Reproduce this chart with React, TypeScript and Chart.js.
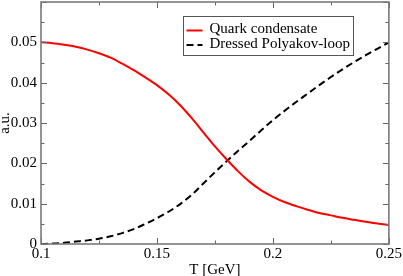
import React, { useEffect, useRef } from "react";
import { Chart, registerables } from "chart.js";

Chart.register(...registerables);

const T_VALUES = [0.100, 0.105, 0.110, 0.115, 0.120, 0.125, 0.130, 0.135, 0.140, 0.145, 0.150, 0.155, 0.160, 0.165, 0.170, 0.175, 0.180, 0.185, 0.190, 0.195, 0.200, 0.205, 0.210, 0.215, 0.220, 0.225, 0.230, 0.235, 0.240, 0.245, 0.250];
const QUARK_CONDENSATE = [0.0500, 0.0498, 0.0494, 0.0489, 0.0482, 0.0473, 0.0462, 0.0447, 0.0431, 0.0413, 0.0394, 0.0371, 0.0344, 0.0312, 0.0277, 0.0242, 0.0210, 0.0180, 0.0154, 0.0133, 0.0117, 0.0104, 0.0094, 0.0085, 0.0077, 0.0071, 0.0065, 0.0060, 0.0055, 0.0051, 0.0047];
const DRESSED_POLYAKOV = [0.0000, 0.0001, 0.0003, 0.0006, 0.0009, 0.0013, 0.0019, 0.0027, 0.0037, 0.0050, 0.0064, 0.0080, 0.0099, 0.0122, 0.0150, 0.0178, 0.0205, 0.0231, 0.0256, 0.0282, 0.0307, 0.0330, 0.0352, 0.0373, 0.0394, 0.0414, 0.0433, 0.0451, 0.0468, 0.0484, 0.0500];
const X_TICKS = [0.1, 0.15, 0.2, 0.25];
const Y_TICKS = [0, 0.01, 0.02, 0.03, 0.04, 0.05, 0.06];
const X_LABELS = ["0.1", "0.15", "0.2", "0.25"];
const Y_LABELS = ["0", "0.01", "0.02", "0.03", "0.04", "0.05", ""];
const SERIES_NAMES = ["Quark condensate", "Dressed Polyakov-loop"];

const FONT = '"Liberation Serif", "Times New Roman", serif';

const framePlugin = {
  id: "frameTicksLegend",
  afterDatasetsDraw(chart: any) {
    const { ctx, chartArea: a, scales } = chart;
    const x = scales.x;
    const y = scales.y;
    ctx.save();
    ctx.strokeStyle = "#666";
    ctx.lineWidth = 1;
    const tick = (x1: number, y1: number, x2: number, y2: number) => {
      ctx.beginPath();
      ctx.moveTo(x1, y1);
      ctx.lineTo(x2, y2);
      ctx.stroke();
    };
    X_TICKS.forEach((v, i) => {
      const px = Math.round(x.getPixelForValue(v)) + 0.5;
      tick(px, a.bottom, px, a.bottom - 6);
      tick(px, a.top, px, a.top + 6);
      if (i < X_TICKS.length - 1) {
        const m = Math.round(x.getPixelForValue((v + X_TICKS[i + 1]) / 2)) + 0.5;
        tick(m, a.bottom, m, a.bottom - 3.5);
        tick(m, a.top, m, a.top + 3.5);
      }
    });
    Y_TICKS.forEach((v, i) => {
      const py = Math.round(y.getPixelForValue(v)) + 0.5;
      tick(a.left, py, a.left + 6, py);
      tick(a.right, py, a.right - 6, py);
      if (i < Y_TICKS.length - 1) {
        const m = Math.round(y.getPixelForValue((v + Y_TICKS[i + 1]) / 2)) + 0.5;
        tick(a.left, m, a.left + 3.5, m);
        tick(a.right, m, a.right - 3.5, m);
      }
    });
    // frame
    ctx.strokeStyle = "#7a7a7a";
    ctx.lineWidth = 1.6;
    ctx.strokeRect(a.left, a.top, a.right - a.left, a.bottom - a.top);

    // legend
    const bx = a.left + 142.5;
    const by = a.top + 14.5;
    const bw = 170;
    const bh = 39;
    ctx.fillStyle = "#fff";
    ctx.fillRect(bx, by, bw, bh);
    ctx.strokeStyle = "#555";
    ctx.lineWidth = 1;
    ctx.strokeRect(bx, by, bw, bh);
    ctx.font = "15px " + FONT;
    ctx.textBaseline = "middle";
    ctx.textAlign = "left";
    chart.data.datasets.forEach((ds: any, i: number) => {
      const cy = by + 13 + i * 14.5;
      ctx.strokeStyle = ds.borderColor;
      ctx.lineWidth = 2;
      ctx.setLineDash(ds.borderDash || []);
      ctx.beginPath();
      ctx.moveTo(bx + 3, cy + 1);
      ctx.lineTo(bx + 19, cy + 1);
      ctx.stroke();
      ctx.setLineDash([]);
      ctx.fillStyle = "#000";
      ctx.fillText(ds.label, bx + 26, cy);
    });
    ctx.restore();
  },
};

export default function App() {
  const ref = useRef<HTMLCanvasElement>(null);
  useEffect(() => {
    document.body.style.margin = "0";
    const canvas = ref.current!;
    const chart = new Chart(canvas, {
      type: "line",
      data: {
        datasets: [
          {
            label: SERIES_NAMES[0],
            data: T_VALUES.map((t, i) => ({ x: t, y: QUARK_CONDENSATE[i] })),
            borderColor: "#ff0000",
            borderWidth: 2,
            pointRadius: 0,
            cubicInterpolationMode: "monotone",
            fill: false,
          },
          {
            label: SERIES_NAMES[1],
            data: T_VALUES.map((t, i) => ({ x: t, y: DRESSED_POLYAKOV[i] })),
            borderColor: "#000000",
            borderWidth: 2,
            borderDash: [7, 4],
            pointRadius: 0,
            cubicInterpolationMode: "monotone",
            fill: false,
          },
        ],
      },
      options: {
        animation: false,
        responsive: false,
        devicePixelRatio: 1,
        layout: { padding: { top: 2, right: 14, left: 0, bottom: 0 } },
        plugins: { legend: { display: false }, tooltip: { enabled: false } },
        scales: {
          x: {
            type: "linear",
            min: 0.1,
            max: 0.25,
            grid: { display: false, drawTicks: false },
            border: { display: false },
            afterBuildTicks: (s: any) => {
              s.ticks = X_TICKS.map((v) => ({ value: v }));
            },
            afterFit: (s: any) => {
              s.height = 32;
            },
            ticks: {
              color: "#000",
              padding: 1,
              maxRotation: 0,
              font: { family: FONT, size: 15 },
              callback: (v: any) => X_LABELS[X_TICKS.indexOf(Number(v))] ?? "",
            },
            title: {
              display: true,
              text: "T [GeV]",
              color: "#000",
              font: { family: FONT, size: 15 },
              padding: { top: 0, bottom: -3 },
            },
          },
          y: {
            type: "linear",
            min: 0,
            max: 0.06,
            grid: { display: false, drawTicks: false },
            border: { display: false },
            afterBuildTicks: (s: any) => {
              s.ticks = Y_TICKS.map((v) => ({ value: v }));
            },
            afterFit: (s: any) => {
              s.width = 41;
              s.paddingTop = 0;
              s.paddingBottom = 0;
            },
            ticks: {
              color: "#000",
              padding: 4,
              font: { family: FONT, size: 15 },
              callback: (v: any) => {
                const lab = Y_LABELS[Y_TICKS.indexOf(Number(v))];
                return lab === "" ? null : lab;
              },
            },
            title: {
              display: true,
              text: "a.u.",
              color: "#000",
              font: { family: FONT, size: 15 },
              padding: { top: -4, bottom: 0 },
            },
          },
        },
      },
      plugins: [framePlugin],
    } as any);
    return () => chart.destroy();
  }, []);
  return (
    <div style={{ position: "absolute", left: 0, top: 0, width: 403, height: 276 }}>
      <canvas ref={ref} width={403} height={276} />
    </div>
  );
}
